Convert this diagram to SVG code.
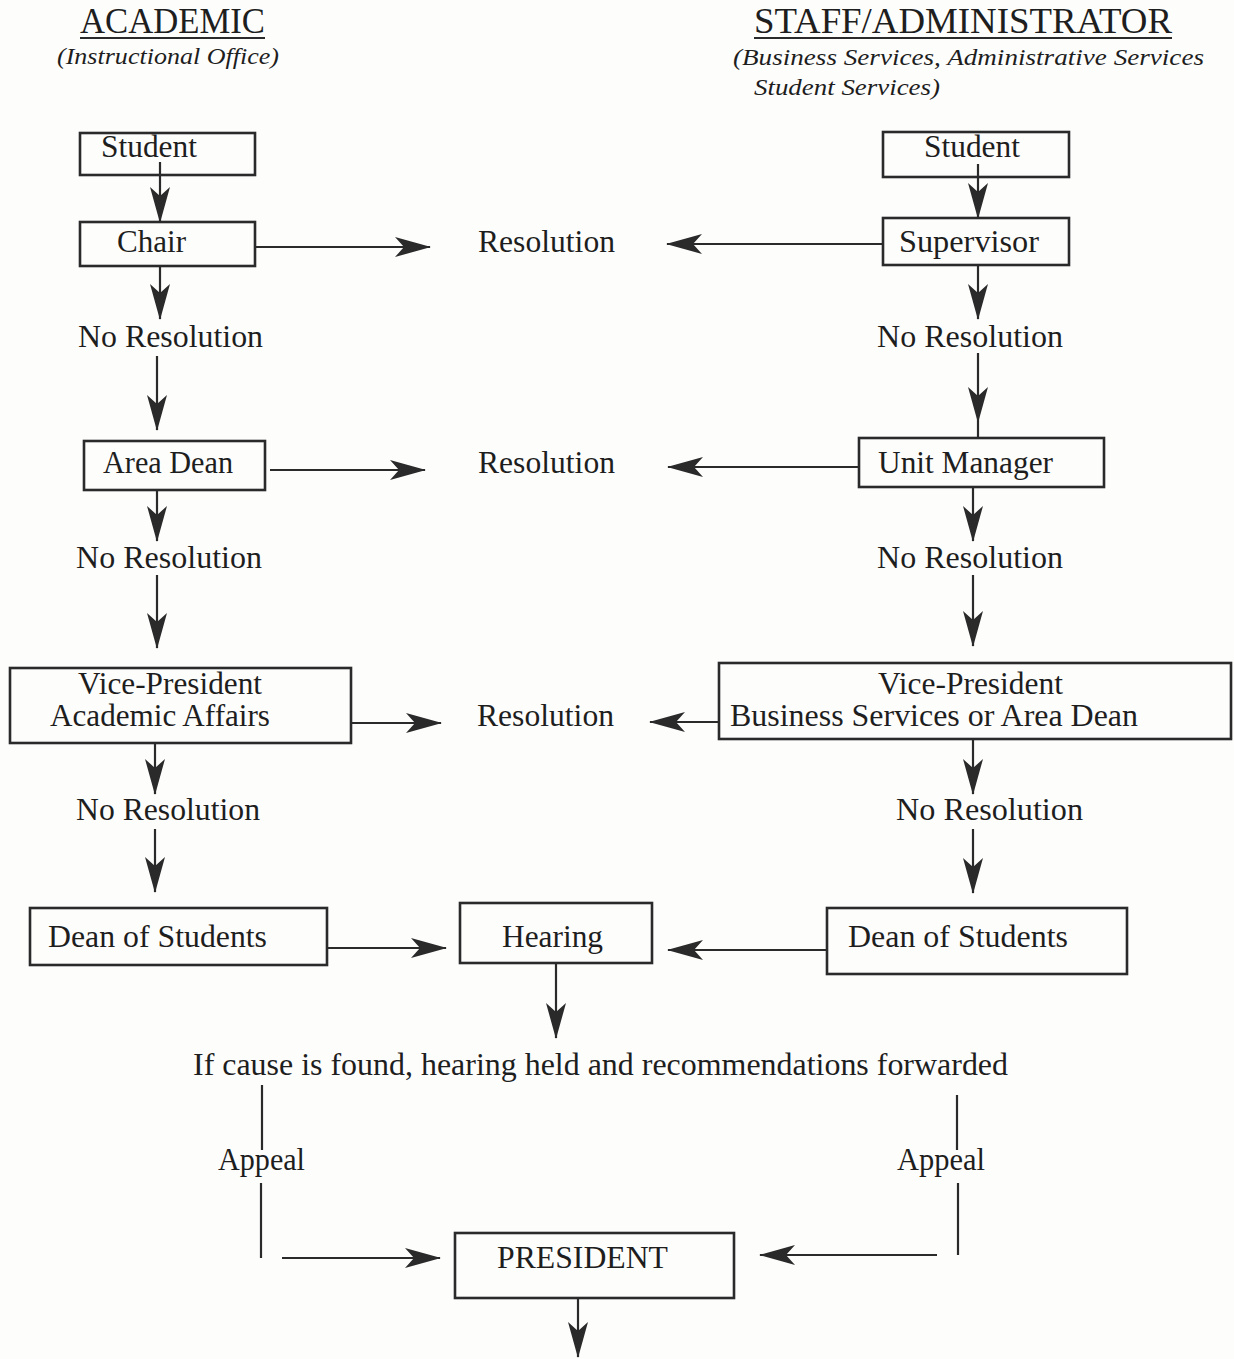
<svg xmlns="http://www.w3.org/2000/svg" width="1234" height="1359" viewBox="0 0 1234 1359">
<defs>
<marker id="ah" markerUnits="userSpaceOnUse" markerWidth="36" markerHeight="20" refX="35" refY="10" orient="auto">
<path d="M0,0 L36,10 L0,20 L9,10 Z" fill="#2a2a2a"/>
</marker>
<style>
text{font-family:'Liberation Serif','Times New Roman',Tinos,Times,serif;fill:#1e1e1e}
.t{font-size:31px}
.h{font-size:35px}
.i{font-size:23px;font-style:italic}
.b{fill:none;stroke:#2a2a2a;stroke-width:2.6}
.c line{stroke:#2a2a2a;stroke-width:2.2}
.a{marker-end:url(#ah)}
</style>
</defs>
<rect width="1234" height="1359" fill="#fdfdfc"/>

<g id="headers">
<text class="h" x="80" y="33" textLength="185" lengthAdjust="spacingAndGlyphs">ACADEMIC</text>
<line x1="80" y1="38" x2="265" y2="38" stroke="#2a2a2a" stroke-width="1.8"/>
<text class="i" x="57" y="64" textLength="222" lengthAdjust="spacingAndGlyphs">(Instructional Office)</text>
<text class="h" x="754" y="33" textLength="418" lengthAdjust="spacingAndGlyphs">STAFF/ADMINISTRATOR</text>
<line x1="754" y1="38" x2="1172" y2="38" stroke="#2a2a2a" stroke-width="1.8"/>
<text class="i" x="733" y="65" textLength="471" lengthAdjust="spacingAndGlyphs">(Business Services, Administrative Services</text>
<text class="i" x="754" y="95" textLength="186" lengthAdjust="spacingAndGlyphs">Student Services)</text>
</g>

<g id="student-left"><rect class="b" x="80" y="133" width="175" height="42"/><text class="t" x="101" y="157" textLength="96" lengthAdjust="spacingAndGlyphs">Student</text></g>
<g id="chair"><rect class="b" x="80" y="222" width="175" height="44"/><text class="t" x="117" y="252" textLength="69" lengthAdjust="spacingAndGlyphs">Chair</text></g>
<g id="student-right"><rect class="b" x="883" y="132" width="186" height="45"/><text class="t" x="924" y="157" textLength="96" lengthAdjust="spacingAndGlyphs">Student</text></g>
<g id="supervisor"><rect class="b" x="883" y="218" width="186" height="47"/><text class="t" x="899" y="252" textLength="140" lengthAdjust="spacingAndGlyphs">Supervisor</text></g>
<g id="resolution-1"><text class="t" x="478" y="252" textLength="137" lengthAdjust="spacingAndGlyphs">Resolution</text></g>
<g id="no-resolution-l1"><text class="t" x="78" y="347" textLength="185" lengthAdjust="spacingAndGlyphs">No Resolution</text></g>
<g id="no-resolution-r1"><text class="t" x="877" y="347" textLength="186" lengthAdjust="spacingAndGlyphs">No Resolution</text></g>

<g id="area-dean"><rect class="b" x="84" y="441" width="181" height="49"/><text class="t" x="103" y="473" textLength="130" lengthAdjust="spacingAndGlyphs">Area Dean</text></g>
<g id="unit-manager"><rect class="b" x="859" y="438" width="245" height="49"/><text class="t" x="878" y="473" textLength="175" lengthAdjust="spacingAndGlyphs">Unit Manager</text></g>
<g id="resolution-2"><text class="t" x="478" y="473" textLength="137" lengthAdjust="spacingAndGlyphs">Resolution</text></g>
<g id="no-resolution-l2"><text class="t" x="76" y="568" textLength="186" lengthAdjust="spacingAndGlyphs">No Resolution</text></g>
<g id="no-resolution-r2"><text class="t" x="877" y="568" textLength="186" lengthAdjust="spacingAndGlyphs">No Resolution</text></g>

<g id="vp-academic"><rect class="b" x="10" y="668" width="341" height="75"/>
<text class="t" x="78" y="694" textLength="184" lengthAdjust="spacingAndGlyphs">Vice-President</text>
<text class="t" x="50" y="726" textLength="220" lengthAdjust="spacingAndGlyphs">Academic Affairs</text></g>
<g id="vp-business"><rect class="b" x="719" y="663" width="512" height="76"/>
<text class="t" x="878" y="694" textLength="185" lengthAdjust="spacingAndGlyphs">Vice-President</text>
<text class="t" x="730" y="726" textLength="408" lengthAdjust="spacingAndGlyphs">Business Services or Area Dean</text></g>
<g id="resolution-3"><text class="t" x="477" y="726" textLength="137" lengthAdjust="spacingAndGlyphs">Resolution</text></g>
<g id="no-resolution-l3"><text class="t" x="76" y="820" textLength="184" lengthAdjust="spacingAndGlyphs">No Resolution</text></g>
<g id="no-resolution-r3"><text class="t" x="896" y="820" textLength="187" lengthAdjust="spacingAndGlyphs">No Resolution</text></g>

<g id="dean-students-left"><rect class="b" x="30" y="908" width="297" height="57"/><text class="t" x="48" y="947" textLength="219" lengthAdjust="spacingAndGlyphs">Dean of Students</text></g>
<g id="hearing"><rect class="b" x="460" y="903" width="192" height="60"/><text class="t" x="502" y="947" textLength="101" lengthAdjust="spacingAndGlyphs">Hearing</text></g>
<g id="dean-students-right"><rect class="b" x="827" y="908" width="300" height="66"/><text class="t" x="848" y="947" textLength="220" lengthAdjust="spacingAndGlyphs">Dean of Students</text></g>

<g id="forwarded"><text class="t" x="193" y="1075" textLength="815" lengthAdjust="spacingAndGlyphs">If cause is found, hearing held and recommendations forwarded</text></g>
<g id="appeal-left"><text class="t" x="218" y="1170" textLength="87" lengthAdjust="spacingAndGlyphs">Appeal</text></g>
<g id="appeal-right"><text class="t" x="897" y="1170" textLength="88" lengthAdjust="spacingAndGlyphs">Appeal</text></g>
<g id="president"><rect class="b" x="455" y="1233" width="279" height="65"/><text class="t" x="497" y="1268" textLength="171" lengthAdjust="spacingAndGlyphs">PRESIDENT</text></g>

<g id="connectors" class="c">
<line class="a" x1="160" y1="162" x2="160" y2="222"/>
<line class="a" x1="978" y1="164" x2="978" y2="218"/>
<line class="a" x1="255" y1="247" x2="430" y2="247"/>
<line class="a" x1="883" y1="244" x2="667" y2="244"/>
<line class="a" x1="160" y1="266" x2="160" y2="319"/>
<line class="a" x1="978" y1="265" x2="978" y2="319"/>
<line class="a" x1="157" y1="356" x2="157" y2="430"/>
<line class="a" x1="978" y1="353" x2="978" y2="422"/>
<line x1="978" y1="422" x2="978" y2="438"/>
<line class="a" x1="270" y1="470" x2="425" y2="470"/>
<line class="a" x1="859" y1="467" x2="668" y2="467"/>
<line class="a" x1="157" y1="490" x2="157" y2="541"/>
<line class="a" x1="973" y1="487" x2="973" y2="541"/>
<line class="a" x1="157" y1="575" x2="157" y2="648"/>
<line class="a" x1="973" y1="575" x2="973" y2="646"/>
<line class="a" x1="351" y1="723" x2="441" y2="723"/>
<line class="a" x1="719" y1="722" x2="650" y2="722"/>
<line class="a" x1="155" y1="743" x2="155" y2="794"/>
<line class="a" x1="973" y1="739" x2="973" y2="794"/>
<line class="a" x1="155" y1="829" x2="155" y2="892"/>
<line class="a" x1="973" y1="829" x2="973" y2="893"/>
<line class="a" x1="327" y1="948" x2="446" y2="948"/>
<line class="a" x1="827" y1="950" x2="668" y2="950"/>
<line class="a" x1="556" y1="963" x2="556" y2="1038"/>
<line x1="262" y1="1085" x2="262" y2="1150"/>
<line x1="261" y1="1183" x2="261" y2="1258"/>
<line x1="957" y1="1095" x2="957" y2="1150"/>
<line x1="958" y1="1183" x2="958" y2="1255"/>
<line class="a" x1="282" y1="1258" x2="440" y2="1258"/>
<line class="a" x1="937" y1="1255" x2="760" y2="1255"/>
<line class="a" x1="578" y1="1298" x2="578" y2="1357"/>
</g>
</svg>
